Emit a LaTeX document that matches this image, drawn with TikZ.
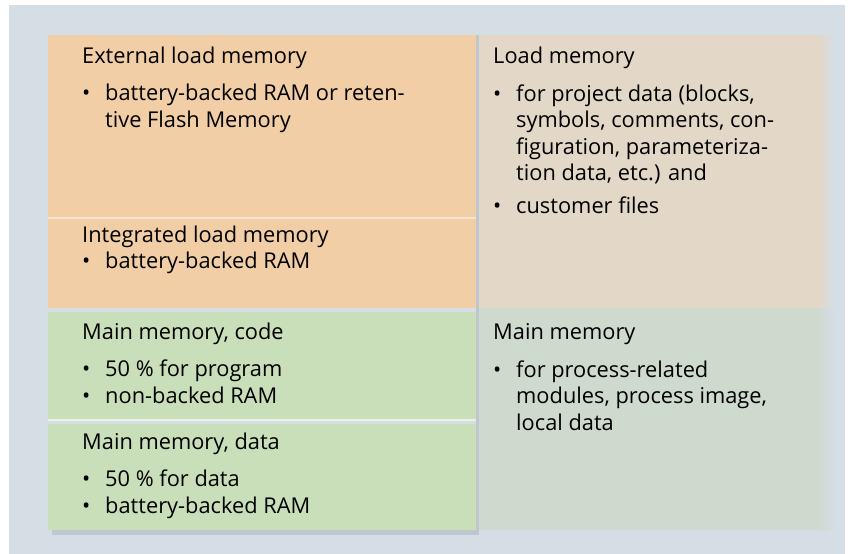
\documentclass[tikz,border=0pt]{standalone}
\usepackage{fontspec}
\setmainfont{Open Sans}
\usetikzlibrary{positioning}

\definecolor{bgcol}{HTML}{D5DDE5}
\definecolor{loadcol}{HTML}{F1CEA6}
\definecolor{maincol}{HTML}{C9DFBA}
\definecolor{loadright}{HTML}{E3D7C7}
\definecolor{mainright}{HTML}{CFDACF}
\definecolor{sepcol}{HTML}{F6E3CD}
\definecolor{shadowcol}{HTML}{BEC6CE}

\newcommand\bul{\makebox[23pt][l]{\textbullet}}
\newcommand\ind{\hspace*{23pt}}

\begin{document}
\begin{tikzpicture}[x=1pt,y=-1pt,
panel/.style={inner sep=0, outer sep=0, anchor=north west, draw=none},
txt/.style={anchor=base west, inner sep=0, align=left, font=\fontsize{21.8}{26.5}\selectfont}]
	\useasboundingbox (0,0) rectangle (852,554);
	\fill[white] (0,0) rectangle (852,554);
	\node[panel, fill=bgcol, minimum width=836pt, minimum height=549pt] at (9,5) (bg) {};

	% right column
	\node[panel, fill=loadright, minimum width=340pt, minimum height=273pt] at (478,35) (load) {};
	\shade[left color=loadright, right color=bgcol] (818,35) rectangle (834,308);
	\node[panel, fill=mainright, minimum width=340pt, minimum height=222pt] at (478,308) (main) {};
	\shade[left color=mainright, right color=bgcol] (818,308) rectangle (834,530);

	% left column
	\fill[shadowcol] (52,530) rectangle (479,535);
	\fill[shadowcol] (476,35) rectangle (479,535);
	\node[panel, fill=loadcol, minimum width=428pt, minimum height=183pt] at (48,35) (ext) {};
	\node[panel, fill=loadcol, minimum width=428pt, minimum height=90pt] at (48,218) (int) {};
	\node[panel, fill=maincol, minimum width=428pt, minimum height=108pt] at (48,312) (code) {};
	\node[panel, fill=maincol, minimum width=428pt, minimum height=106pt] at (48,424) (data) {};
	\draw[sepcol, line width=2pt] (ext.south west) -- (ext.south east);
	\draw[white!60!maincol, line width=2pt] (code.south west) -- (code.south east);

	% texts (multi-line nodes sit on their last baseline)
	\node[txt] at (82,63) (exttitle) {External load memory};
	\node[txt] at (82,127) (extlist) {\bul battery-backed RAM or reten-\\\ind tive Flash Memory};
	\node[txt] at (82,242) (inttitle) {Integrated load memory};
	\node[txt] at (82,268) (intlist) {\bul battery-backed RAM};
	\node[txt] at (82,339) (codetitle) {Main memory, code};
	\node[txt] at (82,403) (codelist) {\bul 50 \% for program\\\bul non-backed RAM};
	\node[txt] at (82,449) (datatitle) {Main memory, data};
	\node[txt] at (82,513) (datalist) {\bul 50 \% for data\\\bul battery-backed RAM};

	\node[txt] at (493,63) (loadtitle) {Load memory};
	\node[txt] at (493,213) (loadlist) {\bul for project data (blocks,\\\ind symbols, comments, con-\\\ind figuration, parameteriza-\\\ind tion data, etc.) and\\[6pt]\bul customer files};
	\node[txt] at (493,339) (maintitle) {Main memory};
	\node[txt] at (493,430) (mainlist) {\bul for process-related\\\ind modules, process image,\\\ind local data};
\end{tikzpicture}
\end{document}
